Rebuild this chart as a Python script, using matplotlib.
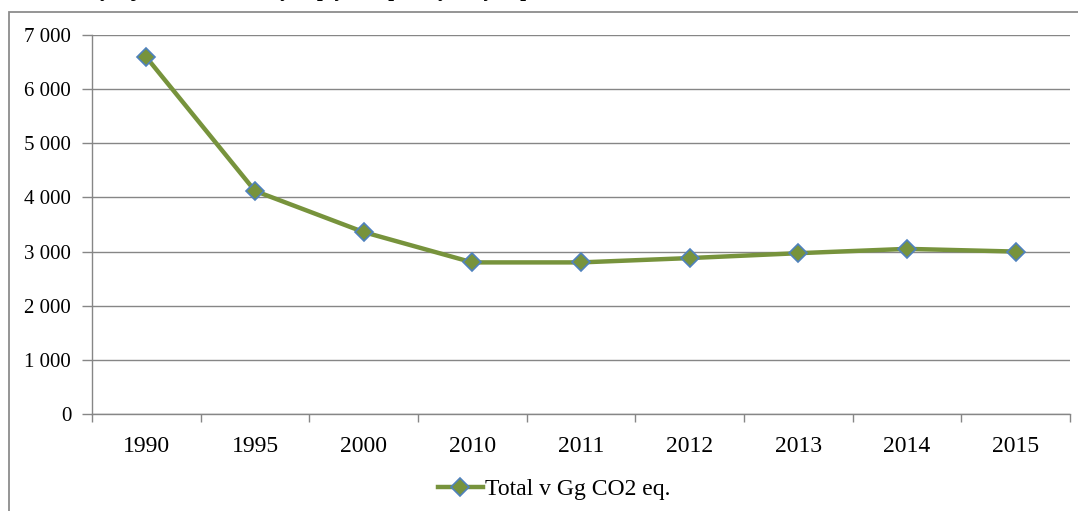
import matplotlib
matplotlib.use("Agg")
import matplotlib.pyplot as plt
from matplotlib.patches import Rectangle
from matplotlib.lines import Line2D
from matplotlib.ticker import FuncFormatter, FixedLocator
import numpy as np

years = ["1990", "1995", "2000", "2010", "2011", "2012", "2013", "2014", "2015"]
total = [6590, 4120, 3360, 2800, 2800, 2880, 2970, 3050, 3000]
series_label = "Total v Gg CO2 eq."
title = "Vývoj emisí skleníkových plynů z průmyslových procesů"

plt.rcParams['font.family'] = ['Liberation Serif', 'DejaVu Serif']

W, H = 1078, 511
fig = plt.figure(figsize=(W / 100, H / 100), dpi=100)

# chart border (cropped at right and bottom)
fig.patches.append(Rectangle((9 / W, -0.05), 1.2, (1 - 12 / H) + 0.05,
                             transform=fig.transFigure, fill=False,
                             edgecolor='#8c8c8c', linewidth=1.3))

# clipped title (only descenders visible, as in the reference)
fig.text(85 / W, 1 + 4 / H, title, fontsize=15, fontweight='bold',
         ha='left', va='baseline', color='black')

ax = fig.add_axes([92 / W, 1 - 414 / H, (1070 - 92) / W, (414 - 35) / H])
x = np.arange(len(years))
ax.plot(x, total, color='#77933C', linewidth=3.2, marker='D', markersize=9.5,
        markerfacecolor='#77933C', markeredgecolor='#4F81BD', markeredgewidth=1.2,
        label=series_label, zorder=3)

ax.set_xlim(-0.5, len(years) - 0.5)
ax.set_ylim(0, 7000)
ax.set_yticks(np.arange(0, 7001, 1000))
ax.yaxis.set_major_formatter(FuncFormatter(lambda v, p: f"{int(v):,}".replace(",", " ")))
ax.yaxis.grid(True, color='#868686', linewidth=1.0)
ax.set_axisbelow(True)

ax.xaxis.set_major_locator(FixedLocator(np.arange(-0.5, len(years), 1.0)))
ax.xaxis.set_major_formatter(FuncFormatter(lambda v, p: ""))
ax.set_xticks(x, minor=True)
ax.set_xticklabels(years, minor=True)
ax.tick_params(axis='x', which='minor', length=0, pad=16, labelsize=17)
ax.tick_params(axis='x', which='major', length=6, color='#868686', width=1)
ax.tick_params(axis='y', length=7, color='#868686', width=1, pad=8, labelsize=15)

for s in ['top', 'right']:
    ax.spines[s].set_visible(False)
for s in ['left', 'bottom']:
    ax.spines[s].set_color('#868686')
    ax.spines[s].set_linewidth(1.0)

fig.legend(handles=[Line2D([0], [0], color='#77933C', linewidth=3.2, marker='D',
                           markersize=9.5, markerfacecolor='#77933C',
                           markeredgecolor='#4F81BD', markeredgewidth=1.2)],
           labels=[series_label], loc='center left', bbox_to_anchor=(438 / W, 1 - 489 / H),
           frameon=False, fontsize=17, handlelength=1.9, handletextpad=0.1,
           borderpad=0, borderaxespad=0)

fig.savefig("out.png", dpi=100)
